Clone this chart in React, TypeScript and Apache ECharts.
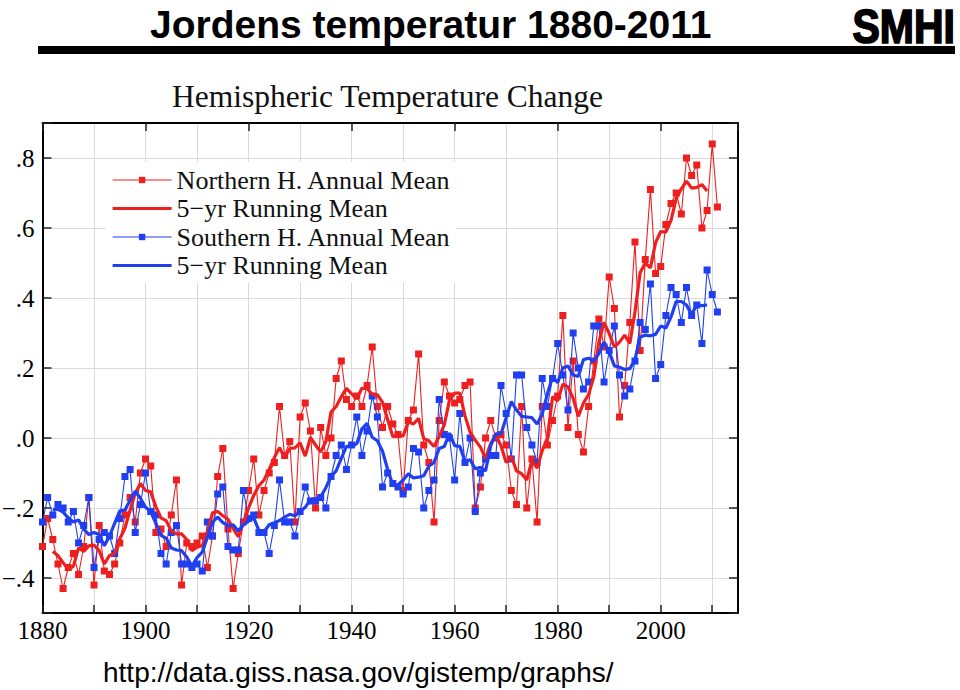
import React, { useEffect, useRef } from "react";
import * as echarts from "echarts";

// ---------- data ----------
const FIRST_YEAR = 1880; // annual series start
const FIRST_MEAN_YEAR = 1882; // 5-yr running means start (centred)

// Northern hemisphere annual mean anomaly (°C), 1880-2011
const NH_ANNUAL = [
  -0.31, -0.23, -0.29, -0.36, -0.43, -0.37, -0.33, -0.39, -0.31, -0.17,
  -0.42, -0.25, -0.38, -0.39, -0.36, -0.30, -0.22, -0.17, -0.24, -0.10,
  -0.06, -0.08, -0.27, -0.26, -0.31, -0.22, -0.12, -0.42, -0.30, -0.31,
  -0.30, -0.28, -0.37, -0.28, -0.11, -0.03, -0.26, -0.43, -0.33, -0.24,
  -0.15, -0.06, -0.22, -0.15, -0.10, -0.07, 0.09, -0.05, -0.01, -0.24,
  0.06, 0.10, 0.02, -0.20, 0.03, -0.05, 0.00, 0.17, 0.22, 0.11,
  0.09, 0.12, 0.09, 0.15, 0.26, 0.09, 0.03, 0.09, 0.04, 0.01,
  -0.15, 0.05, 0.08, 0.24, -0.02, -0.07, -0.24, 0.05, 0.16, 0.12,
  0.10, 0.11, 0.15, 0.16, -0.20, -0.14, 0.00, 0.05, 0.00, 0.01,
  -0.02, -0.15, -0.19, 0.09, -0.20, -0.06, -0.24, 0.09, -0.02, 0.05,
  0.12, 0.35, 0.03, 0.22, 0.01, -0.04, 0.09, 0.22, 0.34, 0.26,
  0.46, 0.37, 0.06, 0.15, 0.33, 0.56, 0.25, 0.51, 0.71, 0.47,
  0.49, 0.61, 0.67, 0.70, 0.64, 0.80, 0.75, 0.78, 0.60, 0.65,
  0.84, 0.66,
];

// Southern hemisphere annual mean anomaly (°C), 1880-2011
const SH_ANNUAL = [
  -0.24, -0.17, -0.22, -0.19, -0.20, -0.24, -0.21, -0.30, -0.25, -0.17,
  -0.37, -0.29, -0.27, -0.28, -0.33, -0.23, -0.11, -0.09, -0.27, -0.19,
  -0.10, -0.21, -0.22, -0.33, -0.36, -0.27, -0.25, -0.36, -0.36, -0.37,
  -0.36, -0.38, -0.24, -0.28, -0.16, -0.14, -0.31, -0.32, -0.32, -0.15,
  -0.23, -0.22, -0.27, -0.27, -0.33, -0.25, -0.12, -0.24, -0.24, -0.28,
  -0.21, -0.14, -0.18, -0.18, -0.17, -0.20, -0.11, -0.05, -0.02, -0.09,
  -0.02, 0.06, -0.05, 0.02, 0.12, 0.06, -0.14, -0.10, -0.13, -0.14,
  -0.16, -0.14, -0.03, -0.04, -0.20, -0.15, -0.12, 0.11, 0.01, 0.00,
  -0.12, 0.07, -0.07, 0.00, -0.21, -0.10, -0.06, -0.05, -0.05, 0.15,
  0.07, -0.06, 0.18, 0.18, 0.03, -0.02, -0.07, 0.17, 0.09, 0.17,
  0.27, 0.18, 0.08, 0.30, 0.20, 0.14, 0.16, 0.32, 0.32, 0.16,
  0.25, 0.32, 0.18, 0.12, 0.14, 0.22, 0.33, 0.31, 0.44, 0.17,
  0.21, 0.35, 0.43, 0.41, 0.33, 0.43, 0.35, 0.38, 0.27, 0.48,
  0.41, 0.36,
];

// Northern hemisphere 5-yr running mean, 1882-2009
const NH_RUNNING = [
  -0.324, -0.336, -0.356, -0.376, -0.366, -0.314, -0.324, -0.308,
  -0.306, -0.322, -0.36, -0.336, -0.33, -0.288, -0.258, -0.206, -0.158, -0.13,
  -0.15, -0.154, -0.196, -0.228, -0.236, -0.266, -0.274, -0.274, -0.29, -0.322,
  -0.312, -0.308, -0.268, -0.214, -0.21, -0.222, -0.232, -0.258, -0.282, -0.242,
  -0.2, -0.164, -0.136, -0.12, -0.09, -0.056, -0.028, -0.056, -0.03, -0.028,
  -0.014, -0.052, 0.002, -0.02, -0.04, -0.01, 0.074, 0.09, 0.118, 0.142,
  0.126, 0.112, 0.142, 0.142, 0.124, 0.124, 0.102, 0.052, 0.004, 0.008,
  0.006, 0.046, 0.04, 0.056, -0.002, -0.008, -0.024, 0.004, 0.038, 0.108,
  0.128, 0.128, 0.064, 0.016, -0.006, -0.026, -0.058, -0.016, 0.008, -0.022,
  -0.07, -0.052, -0.094, -0.102, -0.12, -0.064, -0.086, -0.036, 0.0, 0.118,
  0.106, 0.154, 0.146, 0.114, 0.062, 0.1, 0.124, 0.174, 0.274, 0.33,
  0.298, 0.26, 0.274, 0.294, 0.27, 0.36, 0.472, 0.5, 0.486, 0.558,
  0.59, 0.588, 0.622, 0.684, 0.712, 0.734, 0.714, 0.716, 0.724, 0.706,
];

// Southern hemisphere 5-yr running mean, 1882-2009
const SH_RUNNING = [
  -0.204, -0.204, -0.212, -0.228, -0.24, -0.234, -0.26, -0.276,
  -0.27, -0.276, -0.308, -0.28, -0.244, -0.208, -0.206, -0.178, -0.152, -0.172,
  -0.198, -0.21, -0.244, -0.278, -0.286, -0.314, -0.32, -0.322, -0.34, -0.366,
  -0.342, -0.326, -0.284, -0.24, -0.226, -0.242, -0.25, -0.248, -0.266, -0.248,
  -0.238, -0.228, -0.264, -0.268, -0.248, -0.242, -0.236, -0.226, -0.218, -0.222,
  -0.21, -0.198, -0.176, -0.174, -0.168, -0.142, -0.11, -0.094, -0.058, -0.024,
  -0.024, -0.016, 0.026, 0.042, 0.002, -0.008, -0.038, -0.09, -0.134, -0.134,
  -0.12, -0.102, -0.114, -0.112, -0.108, -0.08, -0.07, -0.03, -0.024, 0.014,
  -0.022, -0.024, -0.066, -0.062, -0.088, -0.084, -0.094, -0.022, 0.012, 0.012,
  0.058, 0.104, 0.08, 0.062, 0.06, 0.058, 0.04, 0.068, 0.126, 0.176,
  0.158, 0.2, 0.206, 0.18, 0.176, 0.224, 0.228, 0.22, 0.242, 0.274,
  0.246, 0.206, 0.202, 0.196, 0.198, 0.224, 0.288, 0.294, 0.292, 0.296,
  0.32, 0.314, 0.346, 0.39, 0.39, 0.38, 0.352, 0.382, 0.378, 0.38,
];

const X_TICK_LABELS = [1880, 1900, 1920, 1940, 1960, 1980, 2000];
const Y_TICK_LABELS: Record<string, string> = {
  "-0.4": "\u2212.4",
  "-0.2": "\u2212.2",
  "0.0": ".0",
  "0.2": ".2",
  "0.4": ".4",
  "0.6": ".6",
  "0.8": ".8",
};

const NAMES = {
  nh: "Northern H. Annual Mean",
  nhRun: "NH 5\u2212yr Running Mean",
  sh: "Southern H. Annual Mean",
  shRun: "SH 5\u2212yr Running Mean",
};

const RED = "#ee1f1f";
const BLUE = "#1f3ff0";
const SERIF = '"Liberation Serif", "Times New Roman", serif';
const SANS = '"Liberation Sans", Arial, sans-serif';

const toPairs = (start: number, vals: number[]) =>
  vals.map((v, i) => [start + i, v]);

export default function App() {
  const ref = useRef<HTMLDivElement>(null);

  useEffect(() => {
    if (!ref.current) return;
    const chart = echarts.init(ref.current, undefined, { renderer: "svg" });

    const axisLine = { show: true, onZero: false, lineStyle: { color: "#000", width: 2 } };
    const tick = { show: true, inside: true, length: 9, lineStyle: { color: "#222", width: 1.5 } };

    const option: any = {
      animation: false,
      backgroundColor: "#fff",
      grid: {
        left: 42.5,
        top: 123,
        width: 695.5,
        height: 490,
        containLabel: false,
        outerBoundsMode: "none",
      },
      xAxis: [
        {
          type: "value",
          position: "bottom",
          min: 1880,
          max: 2015,
          interval: 10,
          axisLine,
          axisTick: { ...tick, length: 8 },
          axisLabel: {
            formatter: (v: number) => (X_TICK_LABELS.indexOf(Math.round(v)) >= 0 ? String(Math.round(v)) : ""),
            fontFamily: SERIF,
            fontSize: 25,
            color: "#000",
            margin: 5,
            showMaxLabel: false,
          },
          splitLine: { show: true, lineStyle: { color: "#dadada", width: 1 } },
        },
        {
          type: "value",
          position: "top",
          min: 1880,
          max: 2015,
          interval: 20,
          axisLine,
          axisTick: { ...tick, length: 8 },
          axisLabel: { show: false },
          splitLine: { show: false },
        },
      ],
      yAxis: [
        {
          type: "value",
          position: "left",
          min: -0.5,
          max: 0.9,
          splitNumber: 7,
          axisLine,
          axisTick: tick,
          axisLabel: {
            formatter: (v: number) => Y_TICK_LABELS[(Math.round(v * 10) / 10).toFixed(1)] || "",
            fontFamily: SERIF,
            fontSize: 25,
            color: "#000",
            margin: 8,
          },
          splitLine: { show: true, lineStyle: { color: "#dadada", width: 1 } },
        },
        {
          type: "value",
          position: "right",
          min: -0.5,
          max: 0.9,
          splitNumber: 7,
          axisLine,
          axisTick: tick,
          axisLabel: { show: false },
          splitLine: { show: false },
        },
      ],
      legend: {
        orient: "vertical",
        left: 106,
        top: 162,
        padding: [5, 5, 4, 5],
        backgroundColor: "#fff",
        itemWidth: 59,
        itemHeight: 8,
        itemGap: 2.5,
        selectedMode: false,
        lineStyle: { width: "inherit" },
        textStyle: { fontFamily: SERIF, fontSize: 26, color: "#111" },
        formatter: (n: string) => n.replace(/^(NH|SH) /, ""),
        data: [
          { name: NAMES.nh },
          { name: NAMES.nhRun, itemStyle: { opacity: 0 } },
          { name: NAMES.sh },
          { name: NAMES.shRun, itemStyle: { opacity: 0 } },
        ],
      },
      series: [
        {
          name: NAMES.nh,
          type: "line",
          data: toPairs(FIRST_YEAR, NH_ANNUAL),
          symbol: "rect",
          symbolSize: 7,
          showSymbol: true,
          lineStyle: { color: RED, width: 1.1 },
          itemStyle: { color: RED },
          z: 2,
        },
        {
          name: NAMES.sh,
          type: "line",
          data: toPairs(FIRST_YEAR, SH_ANNUAL),
          symbol: "rect",
          symbolSize: 7,
          showSymbol: true,
          lineStyle: { color: BLUE, width: 1.1 },
          itemStyle: { color: BLUE },
          z: 3,
        },
        {
          name: NAMES.nhRun,
          type: "line",
          data: toPairs(FIRST_MEAN_YEAR, NH_RUNNING),
          symbol: "none",
          lineStyle: { color: RED, width: 3.2 },
          itemStyle: { color: RED },
          z: 4,
        },
        {
          name: NAMES.shRun,
          type: "line",
          data: toPairs(FIRST_MEAN_YEAR, SH_RUNNING),
          symbol: "none",
          lineStyle: { color: BLUE, width: 3.2 },
          itemStyle: { color: BLUE },
          z: 5,
        },
      ],
      graphic: [
        {
          type: "text",
          x: 150,
          y: 24,
          style: {
            text: "Jordens temperatur 1880-2011",
            font: `bold 39px ${SANS}`,
            fill: "#000",
            align: "left",
            verticalAlign: "middle",
          },
        },
        {
          type: "rect",
          shape: { x: 38, y: 46, width: 917, height: 8 },
          style: { fill: "#000" },
        },
        {
          type: "text",
          x: 955,
          y: 26,
          scaleY: 1.15,
          style: {
            text: "SMHI",
            font: `bold 41px ${SANS}`,
            fill: "#000",
            stroke: "#000",
            lineWidth: 1.5,
            align: "right",
            verticalAlign: "middle",
          },
        },
        {
          type: "text",
          x: 172,
          y: 96,
          style: {
            text: "Hemispheric Temperature Change",
            font: `31.5px ${SERIF}`,
            fill: "#111",
            align: "left",
            verticalAlign: "middle",
          },
        },
        {
          type: "text",
          x: 103,
          y: 672,
          style: {
            text: "http://data.giss.nasa.gov/gistemp/graphs/",
            font: `28px ${SANS}`,
            fill: "#000",
            align: "left",
            verticalAlign: "middle",
          },
        },
      ],
    };

    chart.setOption(option);
    return () => chart.dispose();
  }, []);

  return (
    <div
      ref={ref}
      style={{ position: "fixed", left: 0, top: 0, width: 960, height: 690, background: "#fff" }}
    />
  );
}
